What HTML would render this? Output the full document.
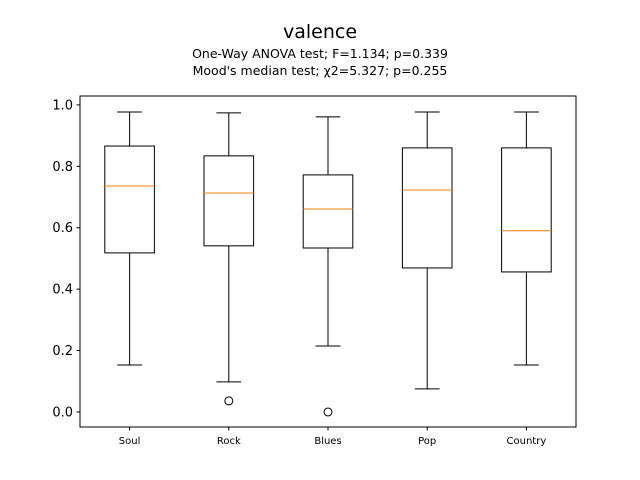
<!DOCTYPE html>
<html><head><meta charset="utf-8"><style>
body{margin:0;background:#fff;}
svg{display:block;font-family:"DejaVu Sans","Liberation Sans",sans-serif;}
</style></head><body>
<svg id="chart" width="640" height="480">
<rect width="640" height="480" fill="#fff"/>
<text x="320" y="38" font-size="19" text-anchor="middle">valence</text>
<text x="320" y="58" font-size="12.5" text-anchor="middle">One-Way ANOVA test; F=1.134; p=0.339</text>
<text x="320" y="75" font-size="12.5" text-anchor="middle">Mood's median test; χ2=5.327; p=0.255</text>
<g id="plot"></g>
<rect x="80" y="96" width="496" height="331" fill="none" stroke="#000" stroke-width="1"/>
</svg>
<script>
const categories=["Soul","Rock","Blues","Pop","Country"];
const whiskerHigh=[0.977,0.974,0.961,0.977,0.977];
const q3=[0.866,0.834,0.772,0.860,0.860];
const medians=[0.736,0.713,0.661,0.723,0.590];
const q1=[0.518,0.541,0.534,0.469,0.456];
const whiskerLow=[0.153,0.098,0.215,0.075,0.153];
const outliers=[[],[0.036],[0.0],[],[]];
const yTicks=[0.0,0.2,0.4,0.6,0.8,1.0];
const yMin=-0.049,yMax=1.029;
const L=80,R=576,T=96,B=427;
const y=v=>B-(v-yMin)/(yMax-yMin)*(B-T);
const x=i=>L+(i+1-0.5)/5*(R-L);
const g=document.getElementById('plot');
const NS="http://www.w3.org/2000/svg";
function mk(tag,attrs,parent){const e=document.createElementNS(NS,tag);for(const k in attrs)e.setAttribute(k,attrs[k]);(parent||g).appendChild(e);return e;}
yTicks.forEach(t=>{
  const yy=y(t);
  const tk=mk('line',{x1:L-3.5,x2:L,y1:yy,y2:yy,stroke:'#000'});
  
  
  const tx=mk('text',{x:L-7,y:yy+4.5,'font-size':13,'text-anchor':'end'});
  tx.textContent=t.toFixed(1);
  
  
});
const bw=(R-L)/5*0.5;
categories.forEach((c,i)=>{
  const cx=x(i);
  const grp=mk('g',{});
  
  
  mk('line',{x1:cx,x2:cx,y1:y(q3[i]),y2:y(whiskerHigh[i]),stroke:'#000'},grp);
  mk('line',{x1:cx,x2:cx,y1:y(q1[i]),y2:y(whiskerLow[i]),stroke:'#000'},grp);
  mk('line',{x1:cx-bw/4,x2:cx+bw/4,y1:y(whiskerHigh[i]),y2:y(whiskerHigh[i]),stroke:'#000'},grp);
  mk('line',{x1:cx-bw/4,x2:cx+bw/4,y1:y(whiskerLow[i]),y2:y(whiskerLow[i]),stroke:'#000'},grp);
  mk('rect',{x:cx-bw/2,y:y(q3[i]),width:bw,height:y(q1[i])-y(q3[i]),fill:'none',stroke:'#000'},grp);
  mk('line',{x1:cx-bw/2,x2:cx+bw/2,y1:y(medians[i]),y2:y(medians[i]),stroke:'#ff7f0e'},grp);
  outliers[i].forEach(o=>{
    const p=mk('circle',{cx:cx,cy:y(o),r:4,fill:'none',stroke:'#000'},grp);
    
    
  });
  const tk=mk('line',{x1:cx,x2:cx,y1:B,y2:B+3.5,stroke:'#000'});
  
  
  const tx=mk('text',{x:cx,y:B+17,'font-size':10,'text-anchor':'middle'});
  tx.textContent=c;
  
  
});
</script>
</body></html>
